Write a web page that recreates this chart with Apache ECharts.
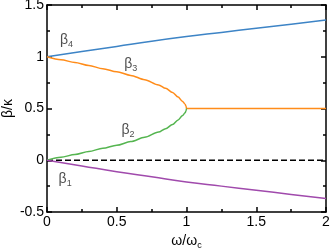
<!DOCTYPE html>
<html lang="en">
<head>
    <meta charset="UTF-8">
    <title>beta vs omega</title>
    <script src="https://cdn.jsdelivr.net/npm/echarts@6/dist/echarts.min.js"></script>
    <style>
        body { margin: 0; background: #fff; }
    </style>
</head>
<body>
    <div id="main" style="width: 332px; height: 248px;"></div>
    <script>
    // values
    const omegaWide = [0, 0.25, 0.5, 0.75, 1, 1.25, 1.5, 1.75, 2]
    const beta4 = [1, 1.05, 1.10, 1.15, 1.195, 1.235, 1.275, 1.315, 1.355]
    const beta1 = [0, -0.055, -0.11, -0.16, -0.21, -0.25, -0.29, -0.33, -0.37]
    const omegaLow = [0, 0.1, 0.2, 0.3, 0.4, 0.5, 0.6, 0.7, 0.8, 0.85, 0.9, 0.94, 0.97, 0.99, 0.997, 1.0, 2]
    const beta2 = [0, 0.028, 0.056, 0.085, 0.115, 0.145, 0.18, 0.222, 0.272, 0.305, 0.345, 0.39, 0.43, 0.458, 0.478, 0.5]
    const beta3 = [1, 0.972, 0.944, 0.915, 0.885, 0.855, 0.82, 0.778, 0.728, 0.695, 0.655, 0.61, 0.57, 0.542, 0.522, 0.5, 0.5]
    const labelPos = [[0.13, -0.18, '1'], [0.58, 0.29, '2'], [0.60, 0.93, '3'], [0.14, 1.16, '4']]
    const xTicks = [0, 0.5, 1, 1.5, 2]
    const yTicks = [-0.5, 0, 0.5, 1, 1.5]

    function pairs(xs, ys) {
        return ys.map(function (y, i) { return [xs[i], y] })
    }

    const font = 'Liberation Sans'
    const axisBase = {
        type: 'value',
        interval: 0.5,
        axisLine: { onZero: false, lineStyle: { color: '#000', width: 1.5 } },
        axisTick: { inside: true, length: 5, lineStyle: { color: '#000', width: 1.5 } },
        minorTick: { show: true, splitNumber: 2, length: 3, lineStyle: { color: '#000', width: 1.5 } },
        splitLine: { show: false }
    }
    function fmt(v) { return String(v) }

    const chart = echarts.init(document.getElementById('main'))
    chart.setOption({
        animation: false,
        backgroundColor: '#fff',
        grid: { left: 47, right: 6, top: 5, bottom: 36, outerBoundsMode: 'none', containLabel: false },
        xAxis: [
            Object.assign({}, axisBase, {
                min: 0, max: 2, position: 'bottom',
                name: 'ω/ω{s|c}', nameLocation: 'middle', nameGap: 20, nameMoveOverlap: false,
                nameTextStyle: { fontFamily: font, fontSize: 14, color: '#000',
                    rich: { s: { fontFamily: font, fontSize: 9, color: '#000', padding: [9, 0, 0, 0] } } },
                axisLabel: { fontFamily: font, fontSize: 14, color: '#000', margin: 3, formatter: fmt,
                    customValues: xTicks }
            }),
            Object.assign({}, axisBase, {
                min: 0, max: 2, position: 'top',
                axisLabel: { show: false }
            })
        ],
        yAxis: [
            Object.assign({}, axisBase, {
                min: -0.5, max: 1.5, position: 'left',
                name: 'β/κ', nameLocation: 'middle', nameGap: 32, nameRotate: 90, nameMoveOverlap: false,
                nameTextStyle: { fontFamily: font, fontSize: 14, color: '#000' },
                axisLabel: { fontFamily: font, fontSize: 14, color: '#000', margin: 3, formatter: fmt,
                    customValues: yTicks }
            }),
            Object.assign({}, axisBase, {
                min: -0.5, max: 1.5, position: 'right',
                axisLabel: { show: false }
            })
        ],
        series: [
            {
                type: 'line', symbol: 'none', silent: true,
                data: [[0, 0], [2, 0]],
                lineStyle: { color: '#000', width: 1.5, type: [6, 3] }
            },
            {
                name: 'β4', type: 'line', symbol: 'none', smooth: true,
                data: pairs(omegaWide, beta4),
                lineStyle: { color: '#3d84c6', width: 1.5 }
            },
            {
                name: 'β3', type: 'line', symbol: 'none', smooth: 0.3, smoothMonotone: 'x',
                data: pairs(omegaLow, beta3),
                lineStyle: { color: '#ff8c1a', width: 1.5 }
            },
            {
                name: 'β2', type: 'line', symbol: 'none', smooth: 0.3, smoothMonotone: 'x',
                data: pairs(omegaLow, beta2),
                lineStyle: { color: '#55b550', width: 1.5 }
            },
            {
                name: 'β1', type: 'line', symbol: 'none', smooth: true,
                data: pairs(omegaWide, beta1),
                lineStyle: { color: '#a04aac', width: 1.5 }
            },
            {
                type: 'scatter', symbolSize: 0, silent: true,
                data: labelPos,
                label: {
                    show: true, position: 'inside',
                    formatter: function (p) { return '{b|β}{s|' + p.data[2] + '}' },
                    rich: {
                        b: { fontFamily: font, fontSize: 14, color: '#222' },
                        s: { fontFamily: font, fontSize: 9, color: '#222', padding: [9, 0, 0, 0] }
                    }
                }
            }
        ]
    })
    </script>
</body>
</html>
